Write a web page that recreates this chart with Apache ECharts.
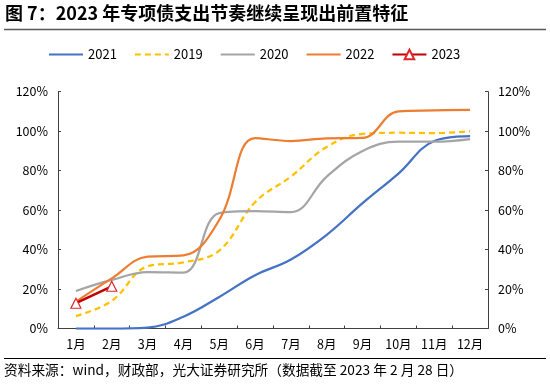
<!DOCTYPE html>
<html><head><meta charset="utf-8">
<script src="https://cdn.jsdelivr.net/npm/echarts@6/dist/echarts.min.js"></script>
<style>html,body{margin:0;padding:0;background:#fff}#c{width:550px;height:384px}</style>
</head><body><div id="c"></div>
<script>
const months = ['1月','2月','3月','4月','5月','6月','7月','8月','9月','10月','11月','12月'];
const s2021 = [0, 0, 0.5, 6, 16, 27, 35, 47.5, 63.5, 78.5, 95, 97.5];
const s2019 = [6.3, 14, 31.5, 33.5, 39.5, 64, 77, 92, 98.6, 99.2, 99, 100];
const s2020 = [19, 24.6, 28.6, 28.3, 58.5, 59.5, 59, 77, 90, 94.7, 94.7, 96];
const s2022 = [13.6, 25.4, 36.4, 37, 55, 96.5, 95, 96.4, 96.6, 110, 110.5, 110.8];
const s2023 = [12.8, 21.4];
const yTicks = [0, 20, 40, 60, 80, 100, 120];
const FONT = '"Noto Sans CJK SC", "Noto Sans", sans-serif';

const chart = echarts.init(document.getElementById('c'), null, {renderer: 'canvas'});
const axisCommon = {
  type: 'value', min: yTicks[0], max: yTicks[yTicks.length - 1], interval: 20,
  axisLine: {show: true, lineStyle: {color: '#404040', width: 1}},
  axisTick: {show: true, inside: true, length: 3, lineStyle: {color: '#404040'}},
  splitLine: {show: false},
  axisLabel: {formatter: '{value}%', color: '#000', fontSize: 12.5, fontFamily: FONT, margin: 10}
};
function lineSeries(name, data, color, dashed) {
  return {
    name, type: 'line', data, smooth: 0.4, symbol: 'none',
    lineStyle: {color, width: 2.25, type: dashed ? [6, 4] : 'solid'},
    itemStyle: {color}, z: 2
  };
}
const hidden = {opacity: 0};
chart.setOption({
  animation: false,
  textStyle: {fontFamily: FONT},
  grid: {left: 58, right: 62, top: 91.7, bottom: 55.5},
  legend: {
    top: 48, left: 48, padding: 0, itemWidth: 34, itemHeight: 12, itemGap: 17,
    textStyle: {color: '#000', fontSize: 13, fontFamily: FONT},
    data: [
      {name: '2021', itemStyle: hidden},
      {name: '2019', itemStyle: hidden},
      {name: '2020', itemStyle: hidden},
      {name: '2022', itemStyle: hidden},
      {name: '2023'}
    ]
  },
  xAxis: {
    type: 'category', data: months, boundaryGap: true,
    axisLine: {lineStyle: {color: '#404040', width: 1}},
    axisTick: {show: true, inside: true, length: 3, lineStyle: {color: '#404040'}},
    axisLabel: {color: '#000', fontSize: 12.5, fontFamily: FONT, margin: 9, interval: 0}
  },
  yAxis: [
    Object.assign({position: 'left'}, axisCommon),
    Object.assign({position: 'right'}, axisCommon)
  ],
  series: [
    lineSeries('2021', s2021, '#4472C4', false),
    lineSeries('2019', s2019, '#FFC000', true),
    lineSeries('2020', s2020, '#A5A5A5', false),
    lineSeries('2022', s2022, '#ED7D31', false),
    {
      name: '2023', type: 'line', data: s2023, smooth: false,
      symbol: 'triangle', symbolSize: 10, showSymbol: true,
      lineStyle: {color: '#C00000', width: 2.5},
      itemStyle: {color: '#fff', borderColor: '#E0262B', borderWidth: 1.2},
      z: 5
    }
  ],
  graphic: [
    {type: 'text', left: 5, top: 4, style: {text: '图 7：2023 年专项债支出节奏继续呈现出前置特征', font: 'bold 18px ' + FONT, fill: '#000'}},
    {type: 'line', shape: {x1: 4, y1: 29.5, x2: 546, y2: 29.5}, style: {stroke: '#595959', lineWidth: 1.5}},
    {type: 'line', shape: {x1: 4, y1: 358.5, x2: 546, y2: 358.5}, style: {stroke: '#000', lineWidth: 1.2}},
    {type: 'text', left: 4, top: 363, style: {text: '资料来源：wind，财政部，光大证券研究所（数据截至 2023 年 2 月 28 日）', font: '13.7px ' + FONT, fill: '#000'}}
  ]
});
</script></body></html>
